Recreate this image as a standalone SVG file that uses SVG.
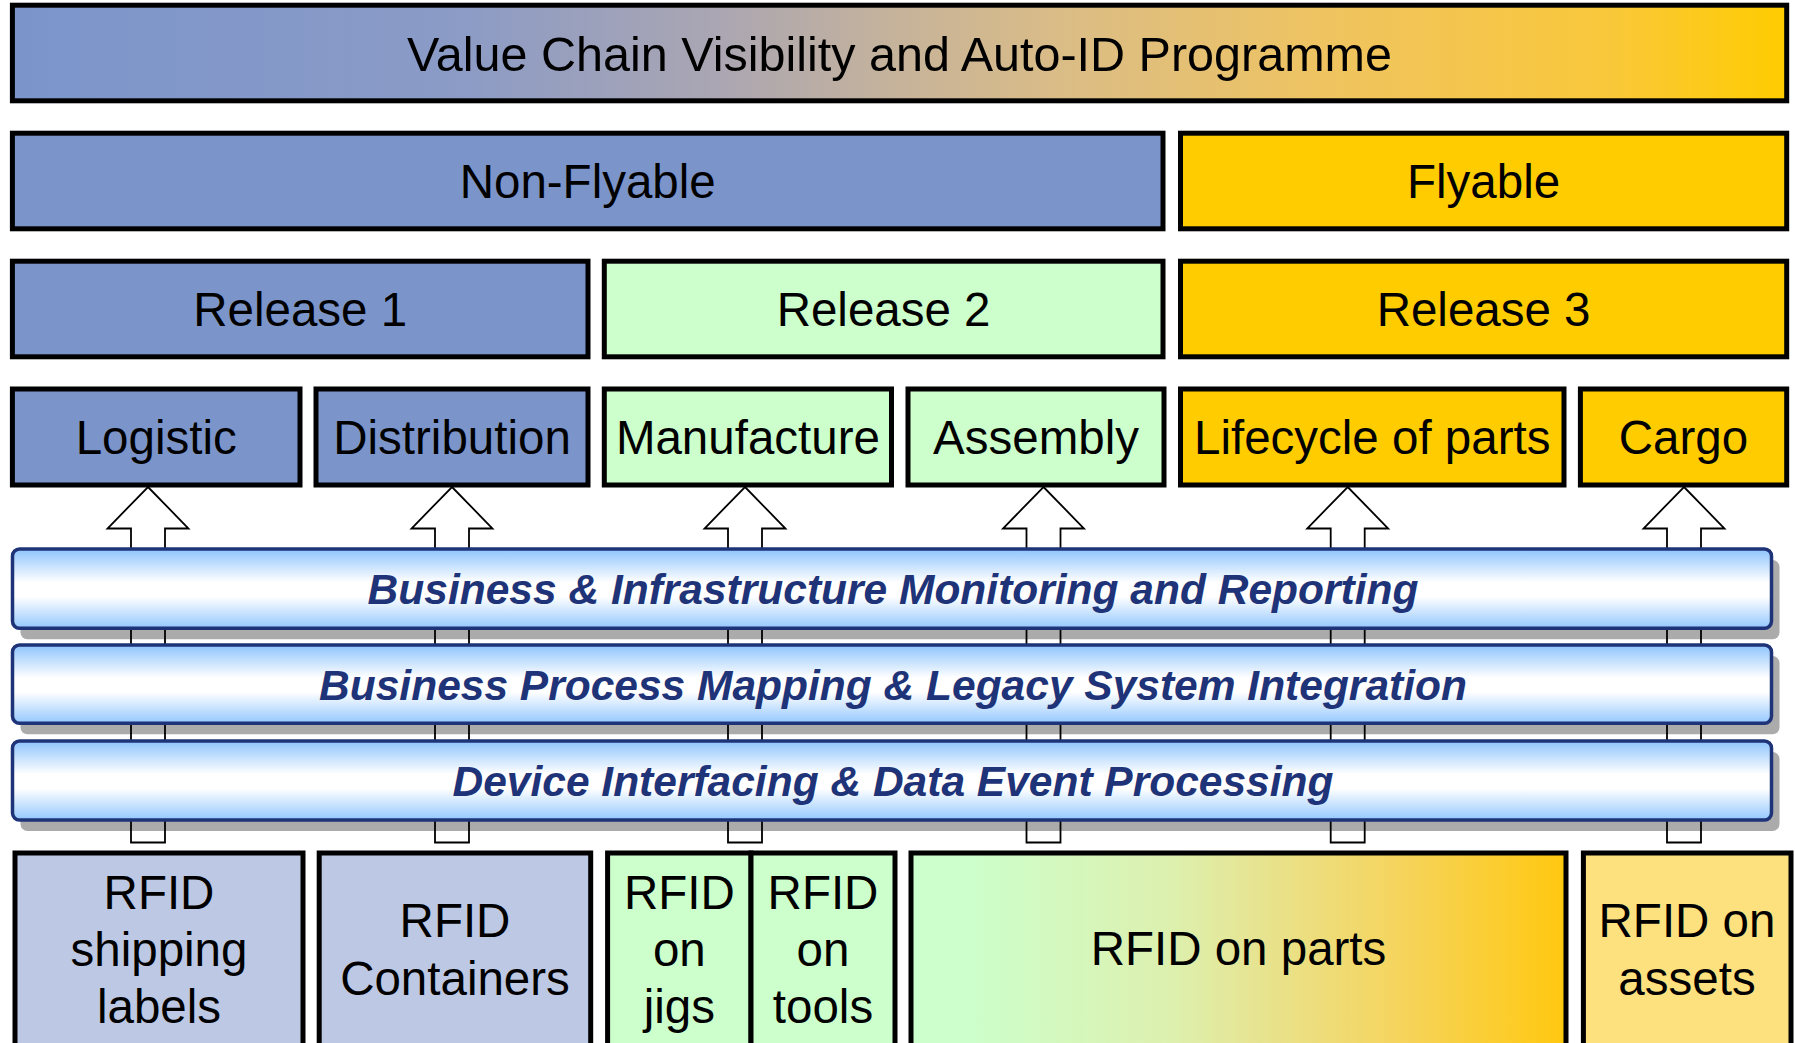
<svg xmlns="http://www.w3.org/2000/svg" width="1795" height="1043" viewBox="0 0 1795 1043">
<defs>
<linearGradient id="gTop" x1="0" y1="0" x2="1" y2="0">
<stop offset="0" stop-color="#7B95CB"/>
<stop offset="0.25" stop-color="#8B9BC6"/>
<stop offset="0.4" stop-color="#ABA6B2"/>
<stop offset="0.5" stop-color="#C6B39A"/>
<stop offset="0.6" stop-color="#DCBD84"/>
<stop offset="0.75" stop-color="#F0C45E"/>
<stop offset="0.9" stop-color="#F9C83A"/>
<stop offset="1" stop-color="#FFCC00"/>
</linearGradient>
<linearGradient id="gParts" x1="0" y1="0" x2="1" y2="0">
<stop offset="0" stop-color="#CCFFCC"/>
<stop offset="0.08" stop-color="#CCFFCC"/>
<stop offset="0.4" stop-color="#DDF0AE"/>
<stop offset="0.55" stop-color="#E8E28C"/>
<stop offset="0.75" stop-color="#F6D45C"/>
<stop offset="1" stop-color="#FFC80F"/>
</linearGradient>
<linearGradient id="gBar" x1="0" y1="0" x2="0" y2="1">
<stop offset="0" stop-color="#8EC4FC"/>
<stop offset="0.42" stop-color="#FFFFFF"/>
<stop offset="0.6" stop-color="#FFFFFF"/>
<stop offset="1" stop-color="#94C8FE"/>
</linearGradient>
<style>
.box{stroke:#000;stroke-width:5}
.blue{fill:#7B95CB}
.green{fill:#CCFFCC}
.gold{fill:#FFCC00}
.lblue{fill:#BDC9E4}
.lgold{fill:#FDE17F}
.t{font-family:"Liberation Sans",Arial,sans-serif;font-size:47.5px;fill:#000;text-anchor:middle}
.bt{font-family:"Liberation Sans",Arial,sans-serif;font-size:42.5px;font-weight:bold;font-style:italic;fill:#1F3478;text-anchor:middle}
.bar{fill:url(#gBar);stroke:#1F3478;stroke-width:3.5}
.shadow{fill:#000;fill-opacity:0.33}
.arrow{fill:#FFF;stroke:#000;stroke-width:1.8}
</style>
</defs>
<rect width="1795" height="1043" fill="#FFFFFF"/>

<g id="connectors">
<path class="arrow" d="M148,487 L188.5,528.5 L165,528.5 L165,842.5 L131,842.5 L131,528.5 L107.5,528.5 Z"/>
<path class="arrow" d="M452,487 L492.5,528.5 L469,528.5 L469,842.5 L435,842.5 L435,528.5 L411.5,528.5 Z"/>
<path class="arrow" d="M745,487 L785.5,528.5 L762,528.5 L762,842.5 L728,842.5 L728,528.5 L704.5,528.5 Z"/>
<path class="arrow" d="M1043.5,487 L1084,528.5 L1060.5,528.5 L1060.5,842.5 L1026.5,842.5 L1026.5,528.5 L1003,528.5 Z"/>
<path class="arrow" d="M1347.7,487 L1388.2,528.5 L1364.7,528.5 L1364.7,842.5 L1330.7,842.5 L1330.7,528.5 L1307.2,528.5 Z"/>
<path class="arrow" d="M1684,487 L1724.5,528.5 L1701,528.5 L1701,842.5 L1667,842.5 L1667,528.5 L1643.5,528.5 Z"/>
</g>

<g id="programme">
<rect class="box" x="12.4" y="5.2" width="1774.3" height="95.6" fill="url(#gTop)"/>
<text class="t" x="899.5" y="70.5" style="font-size:48.5px">Value Chain Visibility and Auto-ID Programme</text>
</g>

<g id="non-flyable">
<rect class="box blue" x="12.4" y="133.2" width="1150.6" height="95.6"/>
<text class="t" x="587.7" y="198">Non-Flyable</text>
</g>
<g id="flyable">
<rect class="box gold" x="1180.5" y="133.2" width="606.2" height="95.6"/>
<text class="t" x="1483.6" y="198">Flyable</text>
</g>

<g id="release1">
<rect class="box blue" x="12.4" y="261.2" width="575.6" height="95.6"/>
<text class="t" x="300.2" y="326">Release 1</text>
</g>
<g id="release2">
<rect class="box green" x="604.3" y="261.2" width="558.7" height="95.6"/>
<text class="t" x="883.6" y="326">Release 2</text>
</g>
<g id="release3">
<rect class="box gold" x="1180.5" y="261.2" width="606.2" height="95.6"/>
<text class="t" x="1483.6" y="326">Release 3</text>
</g>

<g id="logistic">
<rect class="box blue" x="12.4" y="389" width="287.6" height="96"/>
<text class="t" x="156.2" y="454">Logistic</text>
</g>
<g id="distribution">
<rect class="box blue" x="316" y="389" width="272" height="96"/>
<text class="t" x="452" y="454">Distribution</text>
</g>
<g id="manufacture">
<rect class="box green" x="604.3" y="389" width="287.2" height="96"/>
<text class="t" x="747.9" y="454">Manufacture</text>
</g>
<g id="assembly">
<rect class="box green" x="908" y="389" width="256" height="96"/>
<text class="t" x="1036" y="454">Assembly</text>
</g>
<g id="lifecycle">
<rect class="box gold" x="1180.5" y="389" width="383.5" height="96"/>
<text class="t" x="1372.2" y="454">Lifecycle of parts</text>
</g>
<g id="cargo">
<rect class="box gold" x="1580.4" y="389" width="206.3" height="96"/>
<text class="t" x="1683.5" y="454">Cargo</text>
</g>

<g id="layer-monitoring">
<rect class="shadow" x="20.5" y="560" width="1759" height="79.3" rx="7"/>
<rect class="bar" x="12.5" y="549" width="1759" height="79.3" rx="7"/>
<text class="bt" x="893" y="604">Business &amp; Infrastructure Monitoring and Reporting</text>
</g>
<g id="layer-mapping">
<rect class="shadow" x="20.5" y="656" width="1759" height="78.3" rx="7"/>
<rect class="bar" x="12.5" y="645" width="1759" height="78.3" rx="7"/>
<text class="bt" x="893" y="699.5">Business Process Mapping &amp; Legacy System Integration</text>
</g>
<g id="layer-device">
<rect class="shadow" x="20.5" y="752" width="1759" height="79" rx="7"/>
<rect class="bar" x="12.5" y="741" width="1759" height="79" rx="7"/>
<text class="bt" x="893" y="795.5">Device Interfacing &amp; Data Event Processing</text>
</g>

<g id="rfid-shipping">
<rect class="box lblue" x="15" y="853" width="288" height="260"/>
<text class="t" x="159" y="909">RFID</text>
<text class="t" x="159" y="966">shipping</text>
<text class="t" x="159" y="1023">labels</text>
</g>
<g id="rfid-containers">
<rect class="box lblue" x="319.2" y="853" width="271.5" height="260"/>
<text class="t" x="455" y="937">RFID</text>
<text class="t" x="455" y="995">Containers</text>
</g>
<g id="rfid-jigs">
<rect class="box green" x="607.6" y="853" width="143.4" height="260"/>
<text class="t" x="679.3" y="909">RFID</text>
<text class="t" x="679.3" y="966">on</text>
<text class="t" x="679.3" y="1023">jigs</text>
</g>
<g id="rfid-tools">
<rect class="box green" x="751" y="853" width="144" height="260"/>
<text class="t" x="823" y="909">RFID</text>
<text class="t" x="823" y="966">on</text>
<text class="t" x="823" y="1023">tools</text>
</g>
<g id="rfid-parts">
<rect class="box" x="911" y="853" width="655" height="260" fill="url(#gParts)"/>
<text class="t" x="1238.5" y="965">RFID on parts</text>
</g>
<g id="rfid-assets">
<rect class="box lgold" x="1583.4" y="853" width="207.6" height="260"/>
<text class="t" x="1687" y="937">RFID on</text>
<text class="t" x="1687" y="995">assets</text>
</g>
</svg>
